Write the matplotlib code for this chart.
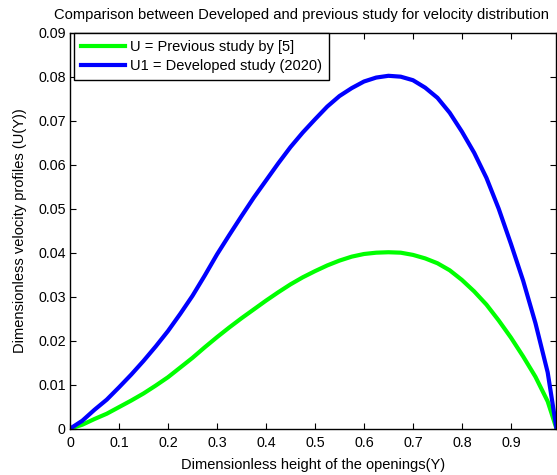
import matplotlib
matplotlib.use("Agg")
import matplotlib.pyplot as plt

plt.rcParams['font.family'] = ['Liberation Sans', 'DejaVu Sans']

# Dimensionless height of the openings (Y)
Y = [0, 0.025, 0.05, 0.075, 0.1, 0.125, 0.15, 0.175, 0.2, 0.225, 0.25,
     0.275, 0.3, 0.325, 0.35, 0.375, 0.4, 0.425, 0.45, 0.475, 0.5,
     0.525, 0.55, 0.575, 0.6, 0.625, 0.65, 0.675, 0.7, 0.725, 0.75,
     0.775, 0.8, 0.825, 0.85, 0.875, 0.9, 0.925, 0.95, 0.975, 0.993]

# U = previous study by [5]
U_prev = [0, 0.0009, 0.0022, 0.0034, 0.0049, 0.0064, 0.0080, 0.0098,
          0.0117, 0.0139, 0.0161, 0.0185, 0.0208, 0.0230, 0.0251, 0.0271,
          0.0291, 0.0310, 0.0328, 0.0344, 0.0358, 0.0371, 0.0382, 0.0391,
          0.0397, 0.0400, 0.0401, 0.0400, 0.0395, 0.0387, 0.0376, 0.0360,
          0.0338, 0.0312, 0.0282, 0.0246, 0.0207, 0.0164, 0.0118, 0.0062, 0]

# U1 = developed study (2020)
U_dev = [0, 0.0018, 0.0043, 0.0066, 0.0094, 0.0123, 0.0154, 0.0187,
         0.0222, 0.0261, 0.0302, 0.0348, 0.0396, 0.0440, 0.0483, 0.0525,
         0.0564, 0.0603, 0.0640, 0.0673, 0.0703, 0.0732, 0.0756, 0.0774,
         0.0789, 0.0798, 0.0802, 0.0800, 0.0792, 0.0775, 0.0752, 0.0718,
         0.0675, 0.0627, 0.0570, 0.0500, 0.0420, 0.0336, 0.0240, 0.0128, 0]

xticks = [0, 0.1, 0.2, 0.3, 0.4, 0.5, 0.6, 0.7, 0.8, 0.9]
xticklabels = ['0', '0.1', '0.2', '0.3', '0.4', '0.5', '0.6', '0.7', '0.8', '0.9']
yticks = [0, 0.01, 0.02, 0.03, 0.04, 0.05, 0.06, 0.07, 0.08, 0.09]
yticklabels = ['0', '0.01', '0.02', '0.03', '0.04', '0.05', '0.06', '0.07', '0.08', '0.09']

fig = plt.figure(figsize=(5.57, 4.75), dpi=100)
ax = fig.add_axes([0.1257, 0.0975, 0.8734, 0.8337])

ax.plot(Y, U_prev, color=(0, 1, 0), lw=3, label="U = Previous study by [5]")
ax.plot(Y, U_dev, color=(0, 0, 1), lw=3, label="U1 = Developed study (2020)")

ax.set_xlim(0, 0.993)
ax.set_ylim(0, 0.09)
ax.set_xticks(xticks)
ax.set_xticklabels(xticklabels)
ax.set_yticks(yticks)
ax.set_yticklabels(yticklabels)
ax.tick_params(direction='in', top=True, right=True, length=4, width=0.8,
               labelsize=10.3)
ax.tick_params(axis='x', pad=5)
ax.tick_params(axis='y', pad=3)
for s in ax.spines.values():
    s.set_linewidth(1)

ax.set_title("Comparison between Developed and previous study for velocity distribution",
             fontsize=10.6, pad=10, x=0.476)
ax.set_xlabel("Dimensionless height of the openings(Y)", fontsize=10.5, labelpad=6)
ax.set_ylabel("Dimensionless velocity profiles (U(Y))", fontsize=10.5, labelpad=8)

leg = ax.legend(loc='upper left', bbox_to_anchor=(0.008, 1.0), fontsize=10.5,
                handlelength=3.0, fancybox=False, framealpha=1,
                edgecolor='black', borderaxespad=0, borderpad=0.5,
                labelspacing=0.35, handletextpad=0.35)
leg.get_frame().set_linewidth(1)

fig.savefig("out.png", dpi=100)
